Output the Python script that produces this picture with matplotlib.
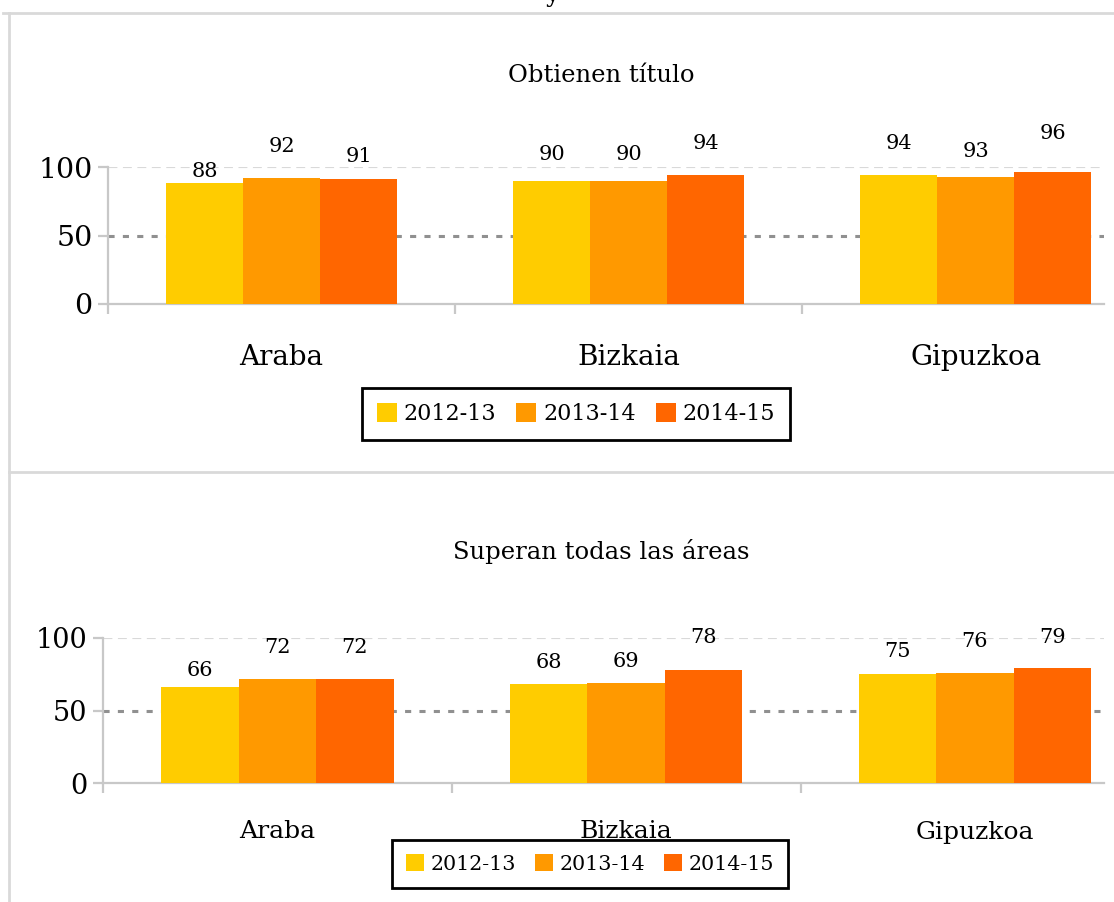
import matplotlib
matplotlib.use("Agg")
import matplotlib.pyplot as plt
from matplotlib.lines import Line2D
import numpy as np

plt.rcParams['font.family'] = ['DejaVu Serif']

# provincias y cursos
provincias = ['Araba', 'Bizkaia', 'Gipuzkoa']
cursos = ['2012-13', '2013-14', '2014-15']
colores = ['#FFCC00', '#FF9900', '#FF6600']

# % que obtienen el titulo, por curso
titulo_1213 = [88, 90, 94]
titulo_1314 = [92, 90, 93]
titulo_1415 = [91, 94, 96]

# % que superan todas las areas, por curso
areas_1213 = [66, 68, 75]
areas_1314 = [72, 69, 76]
areas_1415 = [72, 78, 79]

# altura de cada etiqueta sobre su barra (pixeles)
off_titulo = [[12, 26, 32], [31, 26, 25], [23, 32, 39]]
off_areas = [[17, 22, 23], [31, 21, 31], [31, 32, 31]]

W, H = 1114, 902
fig = plt.figure(figsize=(W / 100, H / 100), dpi=100)

GRIS = '#c8c8c8'
ancho = 0.222


def panel(rect, series, offsets, titulo, title_y, fs_tit, fs_cat, cat_pad, fs_tick,
          fs_lab, leg_center, fs_leg):
    ax = fig.add_axes(rect)
    x = np.arange(len(provincias))
    for i, (vals, col) in enumerate(zip(series, colores)):
        bars = ax.bar(x + (i - 1) * ancho, vals, ancho, color=col, label=cursos[i], zorder=3)
        for b, v, off in zip(bars, vals, offsets[i]):
            ax.annotate(str(v), (b.get_x() + b.get_width() / 2, v), xytext=(0, off),
                        textcoords='offset pixels', ha='center', va='center',
                        fontsize=fs_lab, annotation_clip=False)
    ax.set_ylim(0, 100)
    ax.set_xlim(-0.5, 2.37)
    ax.axhline(100, color='#d9d9d9', lw=0.8, ls=(0, (8, 5)), zorder=1)
    ax.axhline(50, color='#909090', lw=2.2, ls=(0, (2, 2.7)), zorder=1)
    for s in ['top', 'right']:
        ax.spines[s].set_visible(False)
    for s in ['left', 'bottom']:
        ax.spines[s].set_color(GRIS)
        ax.spines[s].set_linewidth(1.6)
    ax.set_yticks([0, 50, 100])
    ax.tick_params(axis='y', length=7, width=1.6, color=GRIS, labelsize=fs_tick, pad=4)
    ax.set_xticks(x)
    ax.set_xticklabels(provincias)
    ax.tick_params(axis='x', which='major', length=0, labelsize=fs_cat, pad=cat_pad)
    ax.set_xticks([-0.5, 0.5, 1.5], minor=True)
    ax.tick_params(axis='x', which='minor', length=7, width=1.6, color=GRIS)
    fig.text(0.54, title_y, titulo, ha='center', va='center', fontsize=fs_tit)
    leg = ax.legend(loc='center', bbox_to_anchor=leg_center, bbox_transform=fig.transFigure,
                    ncol=3, fontsize=fs_leg, frameon=True, fancybox=False, framealpha=1,
                    edgecolor='black', handlelength=0.9, handleheight=0.9,
                    handletextpad=0.3, columnspacing=0.9, borderpad=0.67)
    leg.get_frame().set_linewidth(2)
    return ax


panel([108 / W, 1 - 304 / H, 996 / W, 137 / H],
      [titulo_1213, titulo_1314, titulo_1415], off_titulo,
      'Obtienen título', 1 - 76 / H, 17.5, 20, 29, 20.5, 15, (576 / W, 1 - 414 / H), 16)

panel([103 / W, 1 - 783 / H, 1001 / W, 145 / H],
      [areas_1213, areas_1314, areas_1415], off_areas,
      'Superan todas las áreas', 1 - 551 / H, 17.5, 18, 27, 19.5, 15, (590 / W, 1 - 864 / H), 14.9)

# marcos de los graficos
borde = '#d9d9d9'
fig.add_artist(Line2D([3 / W, 1], [1 - 13 / H] * 2, color=borde, lw=2, transform=fig.transFigure))
fig.add_artist(Line2D([9 / W] * 2, [1 - 13 / H, 0], color=borde, lw=2, transform=fig.transFigure))
fig.add_artist(Line2D([9 / W, 1], [1 - 472 / H] * 2, color=borde, lw=2, transform=fig.transFigure))

# resto del titulo general, cortado por arriba
fig.text(553 / W, 1 - 2 / H, 'y', ha='center', va='baseline', fontsize=17.5)

fig.savefig('out.png', dpi=100)
